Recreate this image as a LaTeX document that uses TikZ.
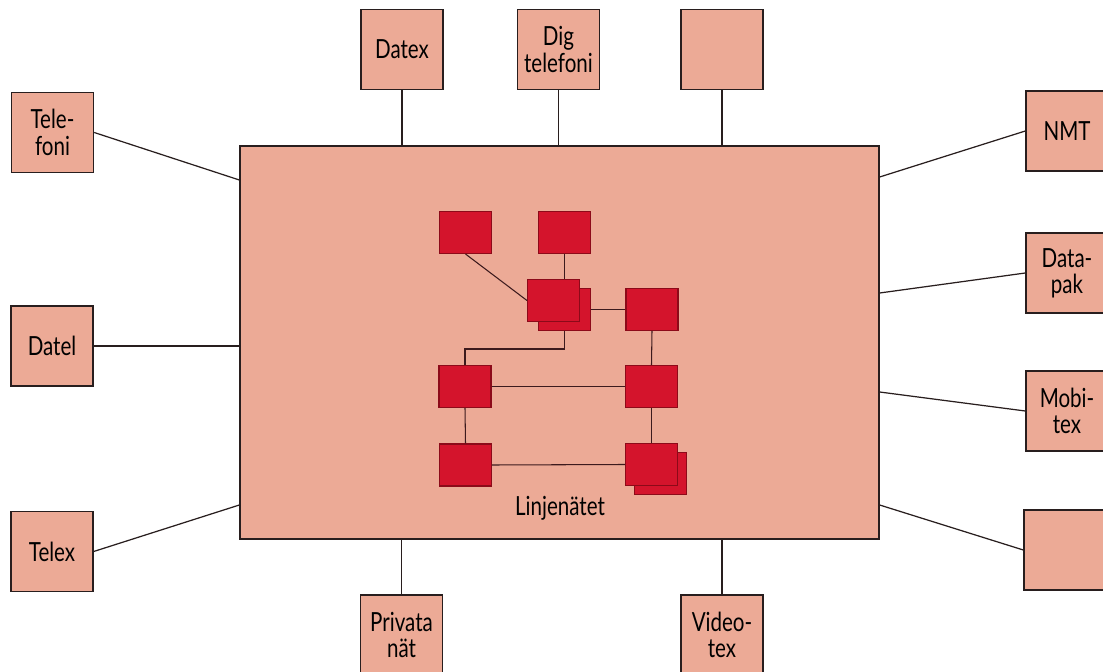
\documentclass[tikz,border=0pt]{standalone}
\usepackage{fontspec}
\setmainfont{Lato}[FakeStretch=0.78]
\usepackage{tikz}
\usetikzlibrary{positioning}

\definecolor{salmon}{RGB}{236,170,150}
\definecolor{netred}{RGB}{212,20,44}
\definecolor{netdark}{RGB}{140,10,25}
\definecolor{ink}{RGB}{40,30,30}

\begin{document}
\begin{tikzpicture}[
    x=0.02cm, y=-0.02cm,
    service/.style={rectangle, draw=ink, line width=0.8pt, fill=salmon, minimum width=1.64cm, minimum height=1.6cm, align=center, inner sep=2pt, font=\fontsize{15}{15}\selectfont},
    network/.style={rectangle, draw=ink, line width=0.8pt, fill=salmon, minimum width=12.78cm, minimum height=7.86cm},
    switch/.style={rectangle, draw=netdark, line width=0.6pt, fill=netred, minimum width=1.04cm, minimum height=0.84cm},
    link/.style={draw=ink, line width=0.7pt},
    wire/.style={draw=ink!80!netdark, line width=0.6pt}
]

% page
\clip (0,0) rectangle (1103,672);
\fill[white] (0,0) rectangle (1103,672);

% Linjenätet
\node[network] (net) at (559.5,342.5) {};

% tjänster runt nätet
\node[service] (telefoni) at (52.5,132.5) {Tele-\\foni};
\node[service] (datel) at (52,346) {Datel};
\node[service] (telex) at (52,551.5) {Telex};
\node[service] (datex) at (402,49.5) {Datex};
\node[service] (digtel) at (558.5,49.5) {Dig\\telefoni};
\node[service] (topfree) at (722,49.5) {};
\node[service] (nmt) at (1067,131) {NMT};
\node[service] (datapak) at (1067,273) {Data-\\pak};
\node[service] (mobitex) at (1067,411) {Mobi-\\tex};
\node[service] (rightfree) at (1065,550) {};
\node[service] (privata) at (401.5,635) {Privata\\nät};
\node[service] (videotex) at (722,635) {Video-\\tex};

% anslutningar
\draw[link] (telefoni.east) -- (net.west |- 0,180);
\draw[link] (datel.east) -- (net.west |- datel.east);
\draw[link] (telex.east) -- (net.west |- 0,505);
\draw[link] (datex.south) -- (datex.south |- net.north);
\draw[link] (digtel.south) -- (digtel.south |- net.north);
\draw[link] (topfree.south) -- (topfree.south |- net.north);
\draw[link] (nmt.west) -- (net.east |- 0,177);
\draw[link] (datapak.west) -- (net.east |- 0,293);
\draw[link] (mobitex.west) -- (net.east |- 0,392);
\draw[link] (rightfree.west) -- (net.east |- 0,505);
\draw[link] (privata.north) -- (privata.north |- net.south);
\draw[link] (videotex.north) -- (videotex.north |- net.south);

% stationer
\node[switch] (s1) at (465.5,232.5) {};
\node[switch] (s2) at (564.5,232.5) {};
\node[switch] (s3b) at (564.5,309.5) {};
\node[switch] (s3) at (553.5,300.5) {};
\node[switch] (s4) at (652,309.5) {};
\node[switch] (s5) at (465,386.5) {};
\node[switch] (s6) at (651.5,386.5) {};
\node[switch] (s7) at (465.5,465) {};
\node[switch] (s8b) at (660.5,473.5) {};
\node[switch] (s8) at (651.5,464.5) {};

% förbindelser
\draw[wire] (s1.south) -- (s3.west);
\draw[wire] (s2.south) -- (s2.south |- s3.north);
\draw[wire] (s3b.east) -- (s4.west);
\draw[wire] (s3b.south) -- ++(0,18) -| (s5.north);
\draw[wire] (s4.south) -- (s6.north);
\draw[wire] (s5.east) -- (s6.west);
\draw[wire] (s5.south) -- (s7.north);
\draw[wire] (s6.south) -- (s8.north);
\draw[wire] (s7.east) -- (s8.west);

\node[font=\fontsize{15}{15}\selectfont] (label) at (560,508) {Linjenätet};

\end{tikzpicture}
\end{document}
